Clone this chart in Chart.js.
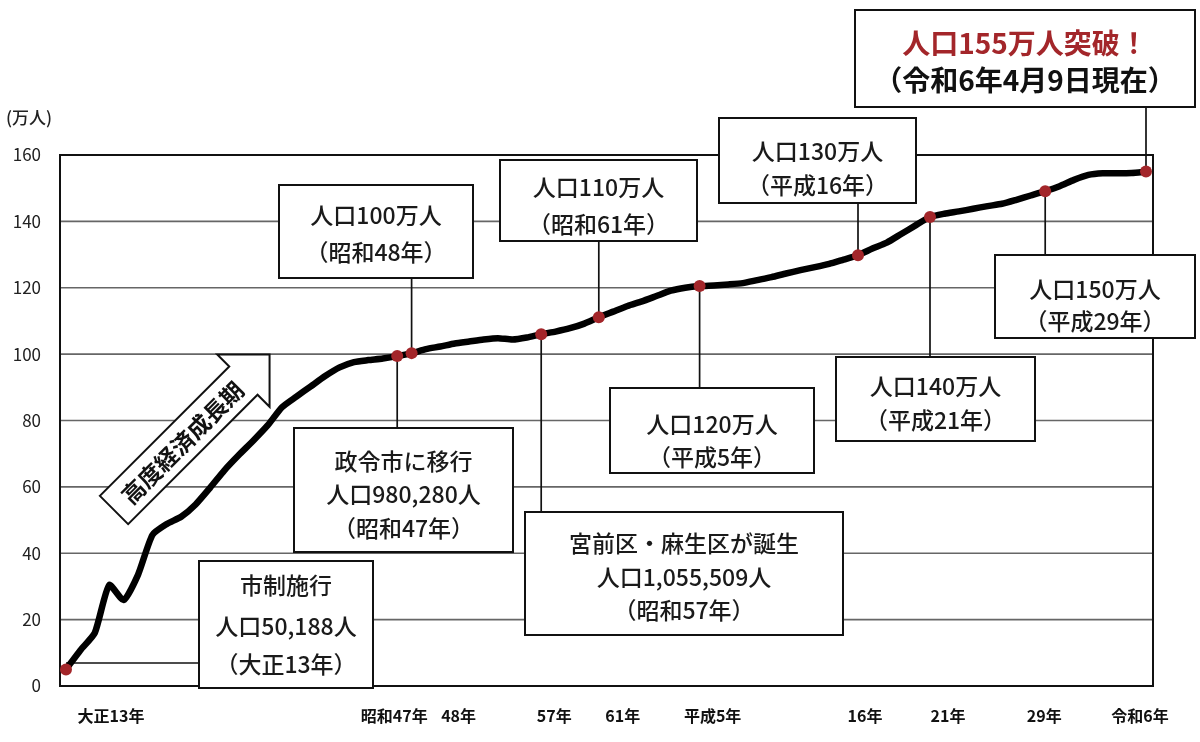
<!DOCTYPE html>
<html lang="ja">
<head>
<meta charset="utf-8">
<script src="https://cdn.jsdelivr.net/npm/chart.js@4"></script>
<style>
  body { margin: 0; background: #fff; }
  canvas { display: block; }
</style>
</head>
<body>
<canvas id="popChart" width="1200" height="742"></canvas>
<script>
// 川崎市の人口推移（万人）
const years = ['1924','1930','1935','1940','1945','1950',
  '1955','1956','1957','1958','1959','1960','1961','1962','1963','1964',
  '1965','1966','1967','1968','1969','1970','1971','1972','1973','1974',
  '1975','1976','1977','1978','1979','1980','1981','1982','1983','1984',
  '1985','1986','1987','1988','1989','1990','1991','1992','1993','1994',
  '1995','1996','1997','1998','1999','2000','2001','2002','2003','2004',
  '2005','2006','2007','2008','2009','2010','2011','2012','2013','2014',
  '2015','2016','2017','2018','2019','2020','2021','2022','2023','2024'];
const population = [5.0, 10.8, 16.0, 30.4, 25.9, 33.5,
  45.5, 48.8, 51.0, 54.7, 59.7, 65.0, 69.6, 73.9, 78.5, 84.0,
  87.2, 90.3, 93.4, 96.0, 97.6, 98.2, 98.7, 99.4, 100.3, 101.5,
  102.3, 103.2, 103.8, 104.4, 104.8, 104.4, 105.0, 106.0, 106.8, 107.8,
  109.2, 111.1, 112.8, 114.5, 115.9, 117.5, 119.1, 120.0, 120.5, 120.7,
  121.0, 121.4, 122.3, 123.2, 124.3, 125.3, 126.2, 127.2, 128.5, 129.8,
  131.8, 133.6, 136.2, 138.8, 141.3, 142.3, 143.0, 143.8, 144.6, 145.3,
  146.5, 147.8, 149.1, 150.6, 152.5, 154.0, 154.5, 154.5, 154.6, 155.0];
const markerYears = ['1924','1972','1973','1982','1986','1993','2004','2009','2017','2024'];
const tickYears = ['1924','1972','1973','1982','1986','1993','2004','2009','2017','2024'];
const tickLabels = ['大正13年','昭和47年','48年','57年','61年','平成5年','16年','21年','29年','令和6年'];
const yTicks = [0, 20, 40, 60, 80, 100, 120, 140, 160];

// 吹き出し（box: x, y, w, h / textY: 各行の中心）
const notes = [
  { year: '1924', lines: ['市制施行', '人口50,188人', '（大正13年）'], box: [199, 561, 174, 127], textY: [585, 626, 664], leadY: 663 },
  { year: '1972', lines: ['政令市に移行', '人口980,280人', '（昭和47年）'], box: [294, 428, 219, 124], textY: [461, 494, 528] },
  { year: '1973', lines: ['人口100万人', '（昭和48年）'], box: [279, 185, 194, 93], textY: [215, 252] },
  { year: '1986', lines: ['人口110万人', '（昭和61年）'], box: [500, 160, 197, 81], textY: [187, 224] },
  { year: '1982', lines: ['宮前区・麻生区が誕生', '人口1,055,509人', '（昭和57年）'], box: [525, 512, 318, 123], textY: [543, 577, 610] },
  { year: '1993', lines: ['人口120万人', '（平成5年）'], box: [610, 388, 204, 85], textY: [424, 457] },
  { year: '2004', lines: ['人口130万人', '（平成16年）'], box: [719, 118, 197, 85], textY: [151, 185] },
  { year: '2009', lines: ['人口140万人', '（平成21年）'], box: [836, 357, 199, 84], textY: [386, 420] },
  { year: '2017', lines: ['人口150万人', '（平成29年）'], box: [995, 255, 200, 83], textY: [289, 321] },
  { year: '2024', lines: ['人口155万人突破！', '（令和6年4月9日現在）'], box: [855, 10, 340, 97], textY: [43, 80], title: true }
];
const tickShift = [45, -3, 47, 13, 24, 13, 7, 18, -1, -6];

const FONT = '"Noto Sans CJK JP", "Noto Sans", sans-serif';
const RED = '#a3262a';

const decor = {
  id: 'decor',
  beforeDatasetsDraw(chart) {
    const ctx = chart.ctx, xs = chart.scales.x, ys = chart.scales.y;
    const left = chart.chartArea.left - 6, right = chart.chartArea.right + 7;
    const top = ys.getPixelForValue(160), bottom = ys.getPixelForValue(0);
    ctx.save();
    // grid
    ctx.strokeStyle = '#666';
    ctx.lineWidth = 1.6;
    yTicks.forEach(v => {
      const y = ys.getPixelForValue(v);
      ctx.beginPath(); ctx.moveTo(left, y); ctx.lineTo(right, y); ctx.stroke();
    });
    ctx.strokeStyle = '#111';
    ctx.lineWidth = 2;
    ctx.strokeRect(left, top, right - left, bottom - top);

    // y labels
    ctx.fillStyle = '#222';
    ctx.font = '17px ' + FONT;
    ctx.textAlign = 'right';
    ctx.textBaseline = 'middle';
    yTicks.forEach(v => ctx.fillText(String(v), 41, ys.getPixelForValue(v)));
    ctx.textAlign = 'left';
    ctx.font = '500 17px ' + FONT;
    ctx.fillText('(万人)', 6, 118);

    // x labels
    ctx.fillStyle = '#111';
    ctx.font = 'bold 16px ' + FONT;
    ctx.textAlign = 'center';
    tickYears.forEach((yr, i) => {
      const x = xs.getPixelForValue(years.indexOf(yr));
      ctx.fillText(tickLabels[i], x + tickShift[i], 716);
    });

    // leader lines
    ctx.strokeStyle = '#111';
    ctx.lineWidth = 1.7;
    notes.forEach(n => {
      const i = years.indexOf(n.year);
      const px = xs.getPixelForValue(i), py = ys.getPixelForValue(population[i]);
      const [bx, by, bw, bh] = n.box;
      ctx.beginPath();
      if (n.leadY) {
        ctx.moveTo(px, n.leadY); ctx.lineTo(bx, n.leadY);
      } else if (by > py) {
        ctx.moveTo(px, py); ctx.lineTo(px, by);
      } else {
        ctx.moveTo(px, by + bh); ctx.lineTo(px, py);
      }
      ctx.stroke();
    });

    // 高度経済成長期 arrow
    ctx.translate(114, 510);
    ctx.rotate(-Math.PI / 4);
    const L = 220, hh = 37, bw2 = 20, hl = 37;
    ctx.beginPath();
    ctx.moveTo(0, -bw2); ctx.lineTo(L - hl, -bw2); ctx.lineTo(L - hl, -hh);
    ctx.lineTo(L, 0); ctx.lineTo(L - hl, hh); ctx.lineTo(L - hl, bw2);
    ctx.lineTo(0, bw2); ctx.closePath();
    ctx.fillStyle = '#fff'; ctx.fill();
    ctx.lineWidth = 2; ctx.strokeStyle = '#111'; ctx.stroke();
    ctx.fillStyle = '#111';
    ctx.font = 'bold 23px ' + FONT;
    ctx.textAlign = 'center';
    ctx.textBaseline = 'middle';
    ctx.fillText('高度経済成長期', 96, 1);
    ctx.restore();
  },
  afterDatasetsDraw(chart) {
    const ctx = chart.ctx;
    ctx.save();
    ctx.textAlign = 'center';
    ctx.textBaseline = 'middle';
    notes.forEach(n => {
      const [bx, by, bw, bh] = n.box;
      ctx.fillStyle = '#fff';
      ctx.fillRect(bx, by, bw, bh);
      ctx.strokeStyle = '#111';
      ctx.lineWidth = 2;
      ctx.strokeRect(bx, by, bw, bh);
      n.lines.forEach((t, k) => {
        if (n.title) {
          ctx.font = 'bold 28px ' + FONT;
          ctx.fillStyle = k === 0 ? RED : '#111';
        } else {
          ctx.font = '500 23px ' + FONT;
          ctx.fillStyle = '#1a1a1a';
        }
        ctx.fillText(t, bx + bw / 2, n.textY[k]);
      });
    });
    ctx.restore();
  }
};

new Chart(document.getElementById('popChart'), {
  type: 'line',
  data: {
    labels: years,
    datasets: [{
      label: '人口',
      data: population,
      borderColor: '#000',
      borderWidth: 6.5,
      tension: 0.2,
      pointRadius: ctx => markerYears.includes(years[ctx.dataIndex]) ? 6 : 0,
      pointBackgroundColor: RED,
      pointBorderWidth: 0
    }]
  },
  options: {
    responsive: false,
    animation: false,
    layout: { padding: { left: 66, right: 54, top: 155, bottom: 56 } },
    plugins: { legend: { display: false }, tooltip: { enabled: false } },
    scales: {
      x: { type: 'category', display: false, offset: false },
      y: { min: 0, max: 160, display: false }
    }
  },
  plugins: [decor]
});
</script>
</body>
</html>
